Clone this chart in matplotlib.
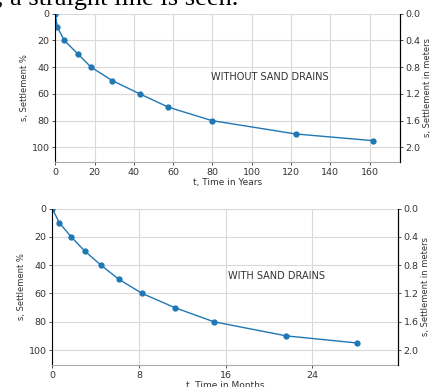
import matplotlib
matplotlib.use("Agg")
import matplotlib.pyplot as plt

# settlement (%) at each marker
settle_pct = [0, 10, 20, 30, 40, 50, 60, 70, 80, 90, 95]
# time without sand drains (years)
t_years = [0, 1.0, 4.6, 11.4, 18.2, 28.9, 43.0, 57.6, 79.7, 122.3, 161.5]
# time with sand drains (months)
t_months = [0, 0.65, 1.75, 3.0, 4.5, 6.15, 8.3, 11.3, 14.9, 21.6, 28.1]

y_ticks = [0, 20, 40, 60, 80, 100]
m_ticks = [0.0, 0.4, 0.8, 1.2, 1.6, 2.0]

W, H = 435, 387
fig = plt.figure(figsize=(W / 100, H / 100), dpi=100)
fig.patch.set_facecolor("white")

BLUE = "#1f77b4"
GRID = "#d9d9d9"
TXT = "#333333"


def panel(rect, t, xlim, xticks, xlabel, note, note_xy, ymax):
    ax = fig.add_axes(rect)
    ax.plot(t, settle_pct, "-o", color=BLUE, lw=1.0, ms=3.5)
    ax.set_xlim(*xlim)
    ax.set_ylim(ymax, 0)
    ax.set_xticks(xticks)
    ax.set_yticks(y_ticks)
    ax.grid(True, color=GRID, lw=0.8)
    ax.set_axisbelow(True)
    ax.tick_params(labelsize=6.8, colors=TXT, length=2.5, width=0.6, pad=1.5)
    ax.set_xlabel(xlabel, fontsize=6.5, color=TXT, labelpad=1)
    ax.set_ylabel("s, Settlement %", fontsize=6, color=TXT, labelpad=2)
    ax.spines["top"].set_visible(False)
    ax.spines["bottom"].set_color("#aaaaaa")
    ax.spines["left"].set_color("black")
    ax.text(note_xy[0], note_xy[1], note, fontsize=7, color=TXT,
            ha="center", va="center")

    ax2 = ax.twinx()
    ax2.set_ylim(ymax * 0.02, 0)
    ax2.set_yticks(m_ticks)
    ax2.set_yticklabels([f"{v:.1f}" for v in m_ticks])
    ax2.tick_params(labelsize=6.8, colors=TXT, length=2.5, width=0.6, pad=1.5)
    ax2.set_ylabel("s, Settlement in meters", fontsize=6, color=TXT, labelpad=2)
    ax2.spines["top"].set_visible(False)
    ax2.spines["bottom"].set_visible(False)
    ax2.spines["left"].set_visible(False)
    ax2.spines["right"].set_color("black")
    return ax


def r(x0, y0, x1, y1):
    return [x0 / W, 1 - y1 / H, (x1 - x0) / W, (y1 - y0) / H]


panel(r(55.3, 13.7, 400, 162), t_years, (0, 175.5),
      [0, 20, 40, 60, 80, 100, 120, 140, 160], "t, Time in Years",
      "WITHOUT SAND DRAINS", (109, 47.5), 111)

panel(r(52.3, 208.7, 398, 365), t_months, (0, 31.9),
      [0, 8, 16, 24], "t, Time in Months",
      "WITH SAND DRAINS", (20.7, 47.6), 110.6)

# clipped line of the surrounding document text
fig.text(-0.008, 1 - 5 / H, ", a straight line is seen.", fontsize=19,
         family="Liberation Serif", color="black", va="baseline", ha="left")

fig.savefig("out.png", dpi=100, facecolor="white")
